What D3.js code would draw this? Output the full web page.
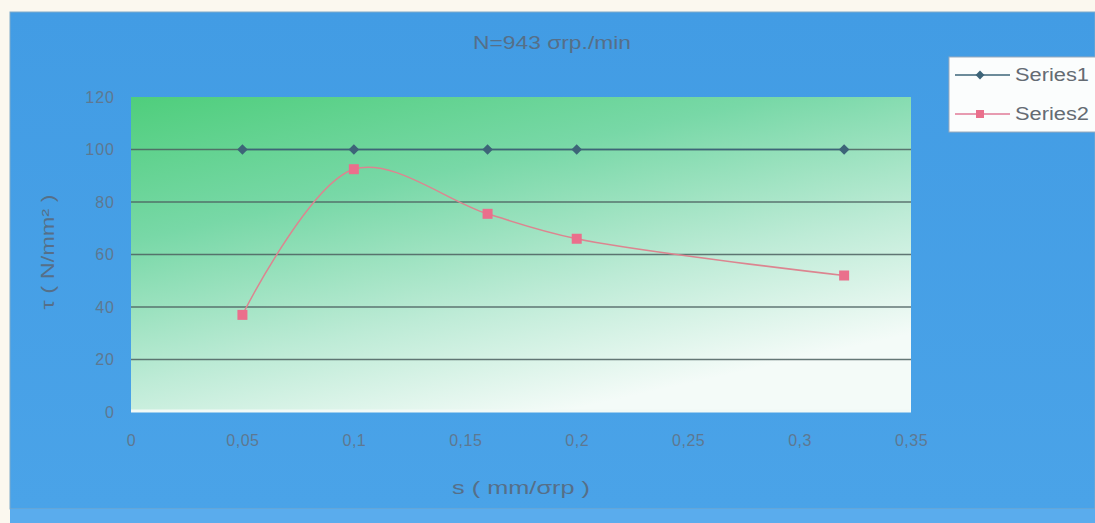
<!DOCTYPE html>
<html>
<head>
<meta charset="utf-8">
<script src="https://cdn.jsdelivr.net/npm/d3@7"></script>
<style>
  html, body { margin: 0; padding: 0; background: #fbf8ef; }
  svg { display: block; font-family: "Liberation Sans", Arial, sans-serif; }
</style>
</head>
<body>
<svg id="chart" width="1095" height="523"></svg>
<script>
// Feed rate s (mm/rev) and shear stress τ (N/mm²)
const feedS   = [0.05, 0.1, 0.16, 0.2, 0.32];
const series1 = [100, 100, 100, 100, 100];
const series2 = [37, 92.5, 75.5, 66, 52];
const seriesNames = ["Series1", "Series2"];
const xTicks = [0, 0.05, 0.1, 0.15, 0.2, 0.25, 0.3, 0.35];
const yTicks = [0, 20, 40, 60, 80, 100, 120];

const svg = d3.select("#chart");
const W = 1095, H = 523;
const plot = { left: 131, top: 97, right: 911, bottom: 412 };

const defs = svg.append("defs");
const bgGrad = defs.append("linearGradient").attr("id", "outerBg")
  .attr("x1", 0).attr("y1", 0).attr("x2", 0).attr("y2", 1);
bgGrad.append("stop").attr("offset", "0%").attr("stop-color", "#429ce4");
bgGrad.append("stop").attr("offset", "100%").attr("stop-color", "#4aa3e8");

const plotGrad = defs.append("linearGradient").attr("id", "plotBg")
  .attr("x1", 0).attr("y1", 0).attr("x2", 0.55).attr("y2", 1);
plotGrad.append("stop").attr("offset", "0%").attr("stop-color", "#4fce7c");
plotGrad.append("stop").attr("offset", "35%").attr("stop-color", "#78d8a7");
plotGrad.append("stop").attr("offset", "70%").attr("stop-color", "#bdebd6");
plotGrad.append("stop").attr("offset", "100%").attr("stop-color", "#f4fbf8");

// chart frame
svg.append("rect").attr("x", 10).attr("y", 12).attr("width", W - 10).attr("height", 497)
  .attr("fill", "url(#outerBg)").attr("stroke", "#7fa9c9").attr("stroke-width", 1);
svg.append("rect").attr("x", 10).attr("y", 509).attr("width", W - 10).attr("height", 14)
  .attr("fill", "#5aaced");

const x = d3.scaleLinear().domain([0, 0.35]).range([plot.left, plot.right]);
const y = d3.scaleLinear().domain([0, 120]).range([plot.bottom, plot.top]);

// plot area
svg.append("rect").attr("x", plot.left).attr("y", plot.top)
  .attr("width", plot.right - plot.left).attr("height", plot.bottom - plot.top)
  .attr("fill", "url(#plotBg)");
svg.append("line").attr("x1", plot.left).attr("x2", plot.right)
  .attr("y1", plot.bottom - 1).attr("y2", plot.bottom - 1)
  .attr("stroke", "#f2faf6").attr("stroke-width", 3);

// horizontal gridlines
svg.append("g").selectAll("line").data(yTicks.filter(d => d > 0 && d < 120)).join("line")
  .attr("x1", plot.left).attr("x2", plot.right)
  .attr("y1", d => y(d)).attr("y2", d => y(d))
  .attr("stroke", "#4d6060").attr("stroke-width", 1.4).attr("opacity", 0.85);

const tickColor = "#5e7891";
const labelColor = "#566f88";

// y axis labels
const yAxis = d3.axisLeft(y).tickValues(yTicks).tickSize(0).tickPadding(16).tickFormat(d3.format("d"));
const gy = svg.append("g").attr("transform", `translate(${plot.left},0)`).call(yAxis);
gy.select(".domain").remove();
gy.selectAll("text").attr("fill", tickColor).attr("font-size", 16)
  .attr("font-family", "'Liberation Sans', Arial, sans-serif").attr("letter-spacing", 1);

// x axis labels
const xAxis = d3.axisBottom(x).tickValues(xTicks).tickSize(0).tickPadding(23)
  .tickFormat(d => String(d).replace(".", ","));
const gx = svg.append("g").attr("transform", `translate(0,${plot.bottom})`).call(xAxis);
gx.select(".domain").remove();
gx.selectAll("text").attr("fill", tickColor).attr("font-size", 16)
  .attr("font-family", "'Liberation Sans', Arial, sans-serif").attr("letter-spacing", 0.5);

// titles
svg.append("text").attr("x", 552).attr("y", 49).attr("text-anchor", "middle")
  .attr("fill", labelColor).attr("font-size", 19)
  .attr("textLength", 158).attr("lengthAdjust", "spacingAndGlyphs").text("N=943 σrp./min");
svg.append("text").attr("x", 521).attr("y", 494).attr("text-anchor", "middle")
  .attr("fill", labelColor).attr("font-size", 19)
  .attr("textLength", 138).attr("lengthAdjust", "spacingAndGlyphs").text("s ( mm/σrp )");
svg.append("text").attr("transform", "translate(54,252) rotate(-90)").attr("text-anchor", "middle")
  .attr("fill", labelColor).attr("font-size", 18)
  .attr("textLength", 115).attr("lengthAdjust", "spacingAndGlyphs").text("τ ( N/mm² )");

const pts1 = feedS.map((s, i) => [s, series1[i]]);
const pts2 = feedS.map((s, i) => [s, series2[i]]);

// Series1
const c1 = "#3d6478", c2 = "#ea6f8c";
svg.append("path").datum(pts1)
  .attr("d", d3.line().x(d => x(d[0])).y(d => y(d[1])).curve(d3.curveCatmullRom))
  .attr("fill", "none").attr("stroke", c1).attr("stroke-width", 1.6);
svg.append("g").selectAll("path").data(pts1).join("path")
  .attr("transform", d => `translate(${x(d[0])},${y(d[1])})`)
  .attr("d", d3.symbol(d3.symbolDiamond2, 70))
  .attr("fill", c1);

// Series2
svg.append("path").datum(pts2)
  .attr("d", d3.line().x(d => x(d[0])).y(d => y(d[1])).curve(d3.curveCatmullRom))
  .attr("fill", "none").attr("stroke", "#dc8590").attr("stroke-width", 1.5);
svg.append("g").selectAll("rect").data(pts2).join("rect")
  .attr("x", d => x(d[0]) - 5).attr("y", d => y(d[1]) - 5)
  .attr("width", 10).attr("height", 10).attr("fill", c2);

// legend
const lg = svg.append("g");
lg.append("rect").attr("x", 949).attr("y", 57).attr("width", 150).attr("height", 75)
  .attr("fill", "#fbfdfd").attr("stroke", "#9ab").attr("stroke-width", 1);
const legendItems = [
  { name: seriesNames[0], color: c1, line: c1, yy: 75, shape: "diamond" },
  { name: seriesNames[1], color: c2, line: "#e07a97", yy: 114, shape: "square" }
];
legendItems.forEach(it => {
  lg.append("line").attr("x1", 955).attr("x2", 1010).attr("y1", it.yy).attr("y2", it.yy)
    .attr("stroke", it.line).attr("stroke-width", 1.5);
  if (it.shape === "diamond") {
    lg.append("path").attr("transform", `translate(980,${it.yy})`)
      .attr("d", d3.symbol(d3.symbolDiamond2, 50)).attr("fill", it.color);
  } else {
    lg.append("rect").attr("x", 976).attr("y", it.yy - 4).attr("width", 8).attr("height", 8)
      .attr("fill", it.color);
  }
  lg.append("text").attr("x", 1015).attr("y", it.yy + 6).attr("fill", "#646b73")
    .attr("font-size", 18).attr("textLength", 74).attr("lengthAdjust", "spacingAndGlyphs")
    .text(it.name);
});
</script>
</body>
</html>
